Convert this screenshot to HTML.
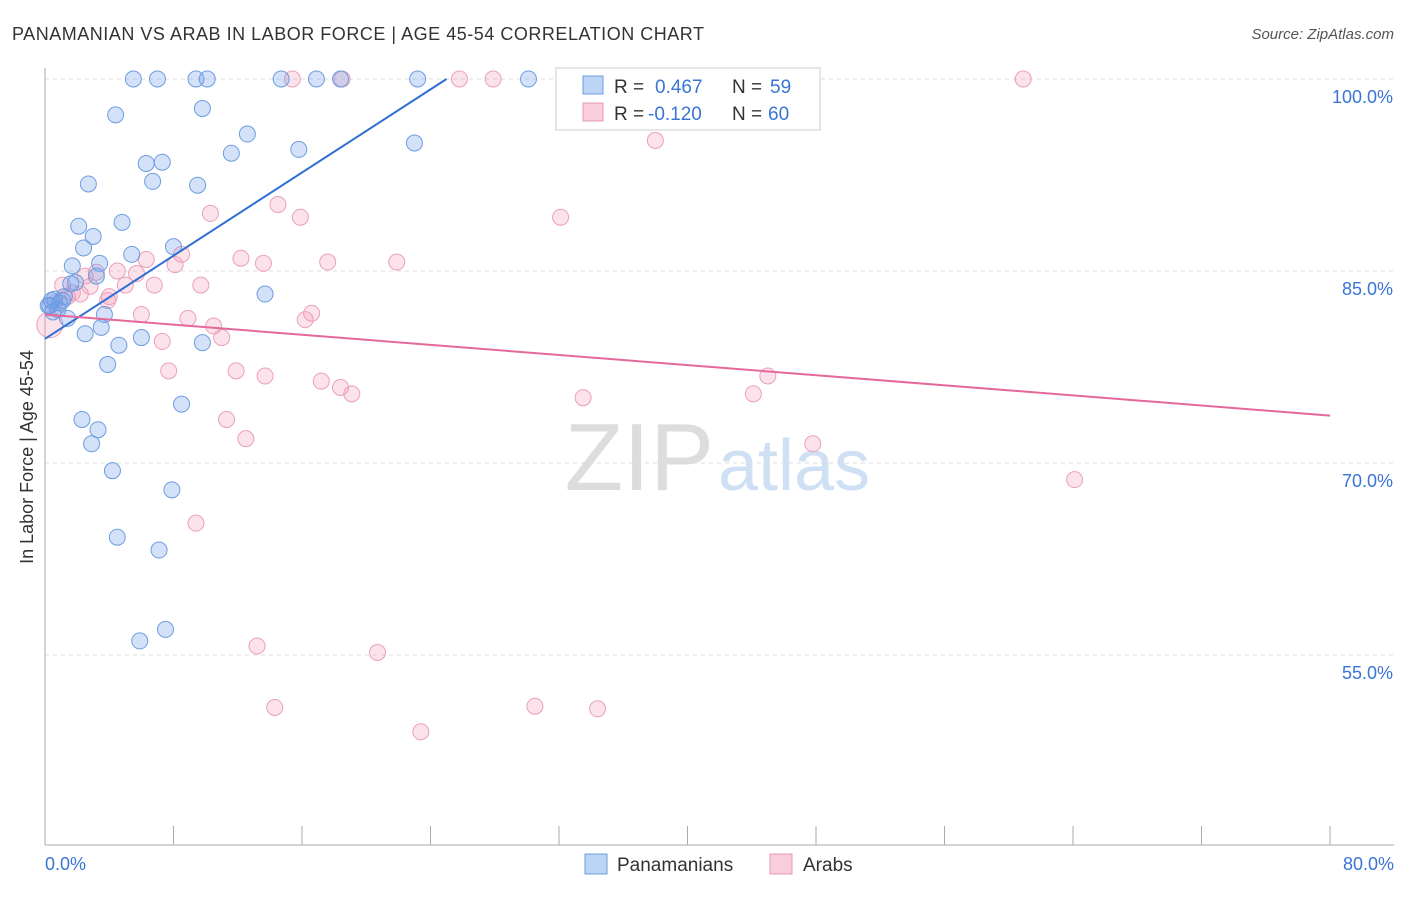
<!DOCTYPE html>
<html><head><meta charset="utf-8"><style>
body{margin:0;background:#fff;font-family:"Liberation Sans",sans-serif}
svg text{font-family:"Liberation Sans",sans-serif}
</style></head><body>
<svg id="chart" width="1406" height="892" xmlns="http://www.w3.org/2000/svg">
<text x="12" y="40" font-size="18" fill="#333" textLength="692">PANAMANIAN VS ARAB IN LABOR FORCE | AGE 45-54 CORRELATION CHART</text>
<text x="1394" y="39" font-size="15" fill="#555" font-style="italic" text-anchor="end">Source: ZipAtlas.com</text>
<text x="714" y="490" font-size="96" fill="#ddd" text-anchor="end" font-family="Liberation Serif">ZIP</text>
<text x="718" y="490" font-size="72" fill="#cfe0f5">atlas</text>
<text transform="translate(33,457) rotate(-90)" font-size="18" fill="#333" text-anchor="middle">In Labor Force | Age 45-54</text>
<g id="grid"></g><g id="pts"></g><g id="lines"></g>
<g>
<rect x="556" y="68" width="264" height="62" fill="#fff" stroke="#ccc"/>
<rect x="583" y="76" width="20" height="18" fill="#bcd4f5" stroke="#6d9de0"/>
<text x="614" y="93" font-size="19" fill="#333">R = </text><text x="655" y="93" font-size="19" fill="#3a74d6">0.467</text>
<text x="732" y="93" font-size="19" fill="#333">N = </text><text x="770" y="93" font-size="19" fill="#3a74d6">59</text>
<rect x="583" y="103" width="20" height="18" fill="#f9cddb" stroke="#e89ab5"/>
<text x="614" y="120" font-size="19" fill="#333">R = </text><text x="648" y="120" font-size="19" fill="#3a74d6">-0.120</text>
<text x="732" y="120" font-size="19" fill="#333">N = </text><text x="768" y="120" font-size="19" fill="#3a74d6">60</text>
</g>
<g>
<rect x="585" y="854" width="22" height="20" fill="#bcd4f5" stroke="#6d9de0"/>
<text x="617" y="871" font-size="19" fill="#333">Panamanians</text>
<rect x="770" y="854" width="22" height="20" fill="#f9cddb" stroke="#e89ab5"/>
<text x="803" y="871" font-size="19" fill="#333">Arabs</text>
</g>
</svg>
<script>
const yTicks=[100,85,70,55];
const xTickCount=10;
const blueX=[5.5,7,9.4,10.1,14.7,16.9,18.4,23.2,30.1,4.4,9.8,12.6,11.6,15.8,23.0,6.3,7.3,2.7,6.7,9.5,2.1,4.8,3.0,2.4,5.4,8.0,1.7,3.4,3.2,1.6,13.7,0.6,0.9,0.3,1.2,0.5,1.4,3.7,3.5,2.5,6.0,4.6,9.8,3.9,8.5,2.3,3.3,2.9,4.2,7.9,4.5,7.1,7.5,5.9,0.2,0.8,1.1,0.4,1.9];
const blueY=[100,100,100,100,100,100,100,100,100,97.2,97.7,95.7,94.2,94.5,95.0,93.4,93.5,91.8,92.0,91.7,88.5,88.8,87.7,86.8,86.3,86.9,85.4,85.6,84.6,84.0,83.2,82.8,82.5,82.3,83.0,81.8,81.3,81.6,80.6,80.1,79.8,79.2,79.4,77.7,74.6,73.4,72.6,71.5,69.4,67.9,64.2,63.2,57.0,56.1,82.3,82.0,82.7,82.7,84.1];
const pinkX=[15.4,18.5,25.8,27.9,60.9,38.0,32.1,14.5,15.9,10.3,8.5,6.3,12.2,13.6,17.6,21.9,8.1,3.2,4.5,5.7,2.5,1.1,1.7,4.0,5.0,6.8,9.7,2.8,6.0,8.9,16.6,16.2,10.5,11.0,7.3,3.9,7.7,11.9,13.7,17.2,18.4,19.1,33.5,44.1,45.0,11.3,12.5,47.8,64.1,9.4,13.2,20.7,14.3,30.5,34.4,23.4,0.3,0.6,1.4,2.2];
const pinkY=[100,100,100,100,100,95.2,89.2,90.2,89.2,89.5,86.3,85.9,86.0,85.6,85.7,85.7,85.5,84.9,85.0,84.8,84.6,83.9,83.3,83.0,83.9,83.9,83.9,83.8,81.6,81.3,81.7,81.2,80.7,79.8,79.5,82.7,77.2,77.2,76.8,76.4,75.9,75.4,75.1,75.4,76.8,73.4,71.9,71.5,68.7,65.3,55.7,55.2,50.9,51.0,50.8,49.0,80.8,82.5,83.0,83.2];
const blueLine=[[0,79.7],[25,100]];
const pinkLine=[[0,81.6],[80,73.7]];
const NS="http://www.w3.org/2000/svg";
const X=v=>45+v*1285/80, Y=v=>79+(100-v)*12.8;
function mk(t,a,p){const e=document.createElementNS(NS,t);for(const k in a)e.setAttribute(k,a[k]);p.appendChild(e);return e;}
const g=document.getElementById('grid');
yTicks.forEach(v=>{
 const l=mk('line',{x1:45,x2:1394,y1:Y(v),y2:Y(v),stroke:'#ddd','stroke-dasharray':'4,4'},g);
 
 
 const t=mk('text',{x:1393,y:Y(v)+24,'font-size':18,fill:'#3a74d6','text-anchor':'end'},g);
 t.textContent=v.toFixed(1)+'%';
 
 
});
const ax=mk('line',{x1:45,x2:45,y1:68,y2:845,stroke:'#aaa'},g);


const bx=mk('line',{x1:45,x2:1394,y1:845,y2:845,stroke:'#aaa'},g);


for(let i=1;i<=xTickCount;i++){const t=mk('line',{x1:X(i*8),x2:X(i*8),y1:826,y2:845,stroke:'#aaa'},g);
 
 }
const t0=mk('text',{x:45,y:870,'font-size':18,fill:'#3a74d6'},g);t0.textContent='0.0%';


const t1=mk('text',{x:1394,y:870,'font-size':18,fill:'#3a74d6','text-anchor':'end'},g);t1.textContent='80.0%';


const P=document.getElementById('pts');
pinkX.forEach((x,i)=>{const c=mk('circle',{cx:X(x),cy:Y(pinkY[i]),r:i==56?13:8,fill:'rgba(244,160,190,0.3)',stroke:'#eaa0bb','stroke-width':1},P);
 
 });
blueX.forEach((x,i)=>{const c=mk('circle',{cx:X(x),cy:Y(blueY[i]),r:8,fill:'rgba(110,160,235,0.3)',stroke:'#6d9de0','stroke-width':1},P);
 
 });
const L=document.getElementById('lines');
const bl=mk('line',{x1:X(blueLine[0][0]),y1:Y(blueLine[0][1]),x2:X(blueLine[1][0]),y2:Y(blueLine[1][1]),stroke:'#2f6fd4','stroke-width':2},L);


const pl=mk('line',{x1:X(pinkLine[0][0]),y1:Y(pinkLine[0][1]),x2:X(pinkLine[1][0]),y2:Y(pinkLine[1][1]),stroke:'#e5689a','stroke-width':2},L);


</script>
</body></html>
